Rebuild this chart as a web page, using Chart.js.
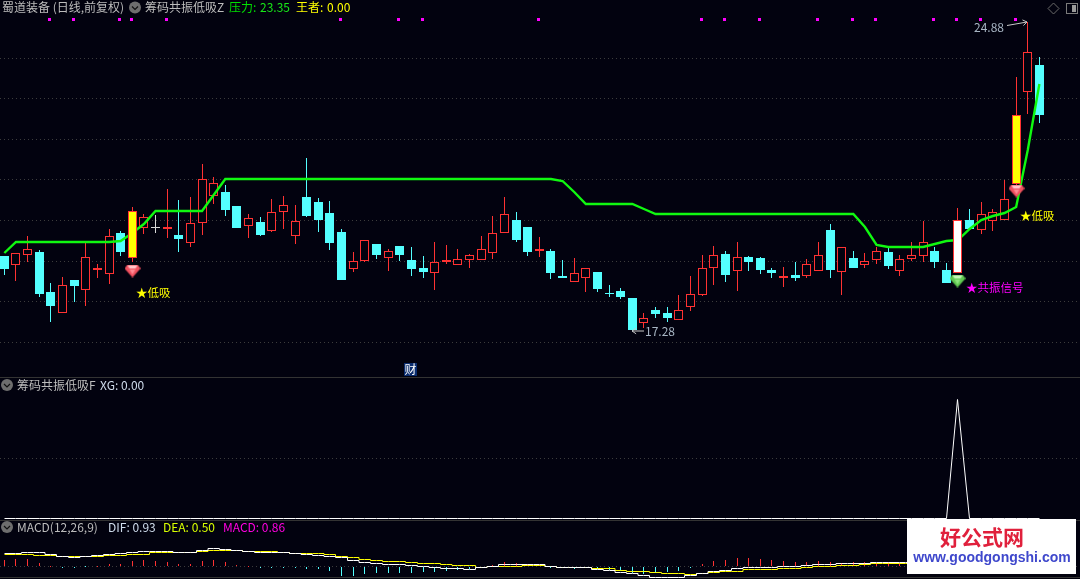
<!DOCTYPE html>
<html><head><meta charset="utf-8">
<style>html,body{margin:0;padding:0;background:#02020f;overflow:hidden}canvas{display:block}</style>
<script src="https://cdn.jsdelivr.net/npm/chart.js@4"></script></head>
<body><canvas id="c" width="1080" height="579" style="width:1080px;height:579px"></canvas>
<script>
const opens =[19.11,18.89,19.14,19.21,18.23,17.72,18.52,18.28,18.78,18.68,19.68,19.06,19.81,19.83,19.79,19.63,19.44,19.93,20.60,20.69,20.34,19.86,19.95,19.73,20.20,19.61,20.56,20.44,20.17,19.70,
18.79,19.00,19.41,19.06,19.36,19.01,18.82,18.69,18.97,18.90,19.02,19.02,19.19,19.69,20.00,19.83,19.24,19.24,18.62,18.48,18.58,18.72,18.20,18.25,18.08,17.47,17.78,17.71,17.55,17.87,
18.15,18.83,19.16,18.75,19.09,19.06,18.77,18.57,18.65,18.63,18.75,19.75,18.73,19.06,18.90,19.02,19.21,18.75,19.04,19.12,19.25,18.77,18.69,20.00,19.76,19.98,20.01,20.90,23.16,23.82];
const closes=[18.79,19.20,19.30,18.18,17.88,18.41,18.37,19.08,18.82,19.60,19.21,20.22,20.07,19.83,19.83,19.53,19.92,21.00,20.92,20.24,19.80,20.04,19.63,20.21,20.38,19.97,20.10,20.00,19.43,18.52,
19.00,19.50,19.14,19.23,19.14,18.79,18.72,18.98,19.03,19.05,19.13,19.30,19.69,20.14,19.51,19.21,19.30,18.69,18.57,18.69,18.81,18.30,18.18,18.10,17.29,17.59,17.69,17.59,17.78,18.17,
18.83,19.13,18.65,19.10,18.96,18.77,18.69,18.62,18.57,18.91,19.15,18.77,19.33,18.83,19.00,19.25,18.87,19.05,19.13,19.47,18.96,18.45,20.00,19.78,20.16,20.19,20.51,22.59,24.13,22.59];
const highs =[19.11,19.20,19.60,19.26,18.45,18.60,18.52,19.44,18.92,19.77,19.73,20.32,20.14,20.12,20.76,20.49,20.56,21.38,21.06,20.86,20.34,20.15,20.07,20.51,20.59,20.37,21.52,20.54,20.47,19.78,
19.21,19.50,19.41,19.28,19.36,19.33,19.11,19.46,19.38,19.28,19.16,19.60,20.10,20.56,20.19,19.83,19.58,19.28,19.01,19.06,18.81,18.72,18.40,18.33,18.08,17.71,17.86,17.86,18.15,18.62,
19.14,19.36,19.24,19.46,19.11,19.09,18.82,18.84,18.96,19.04,19.46,19.90,19.33,19.24,19.19,19.33,19.31,19.14,19.46,19.97,19.33,18.94,20.29,20.27,20.44,20.27,20.98,23.52,24.88,24.01];
const lows  =[18.64,18.50,18.97,18.10,17.49,17.72,17.98,17.88,18.57,18.42,19.11,18.96,19.65,19.68,19.55,19.21,19.33,19.63,20.39,20.10,19.80,19.55,19.60,19.70,19.78,19.41,20.07,19.70,19.26,18.52,
18.72,18.96,19.04,18.74,18.99,18.62,18.57,18.28,18.92,18.90,18.82,19.02,19.04,19.69,19.46,19.11,19.09,18.55,18.57,18.48,18.23,18.23,18.10,18.05,17.28,17.34,17.59,17.49,17.55,17.76,
18.13,18.40,18.47,18.25,18.74,18.67,18.57,18.35,18.50,18.57,18.75,18.57,18.15,18.82,18.82,18.92,18.79,18.62,18.99,18.96,18.82,18.45,18.69,19.78,19.65,19.73,20.00,20.75,22.62,22.40];
const pressure=[19.18,19.46,19.46,19.46,19.46,19.46,19.46,19.46,19.46,19.46,19.49,19.67,19.90,20.22,20.22,20.22,20.22,20.22,20.61,21.00,21.00,21.00,21.00,21.00,21.00,21.00,21.00,21.00,21.00,21.00,
21.00,21.00,21.00,21.00,21.00,21.00,21.00,21.00,21.00,21.00,21.00,21.00,21.00,21.00,21.00,21.00,21.00,21.00,20.97,20.68,20.40,20.40,20.40,20.40,20.40,20.28,20.15,20.15,20.15,20.15,
20.15,20.15,20.15,20.15,20.15,20.15,20.15,20.15,20.15,20.15,20.15,20.15,20.15,20.15,19.82,19.39,19.33,19.33,19.33,19.33,19.42,19.49,19.50,19.79,20.00,20.10,20.17,20.33,21.72,23.35];
const xgSignal=[0,0,0,0,0,0,0,0,0,0,0,0,0,0,0,0,0,0,0,0,0,0,0,0,0,0,0,0,0,0,
0,0,0,0,0,0,0,0,0,0,0,0,0,0,0,0,0,0,0,0,0,0,0,0,0,0,0,0,0,0,
0,0,0,0,0,0,0,0,0,0,0,0,0,0,0,0,0,0,0,0,0,0,100,0,0,0,0,0,0,0];
const dif=[.62,.65,.70,.67,.58,.50,.45,.48,.55,.57,.62,.70,.75,.75,.75,.70,.68,.78,.88,.83,.78,.72,.68,.67,.67,.62,.57,.53,.50,.42,
.28,.17,.15,.08,.08,.03,-.02,-.08,-.10,-.13,-.15,-.08,-.03,.07,.07,.07,.07,-.02,-.07,-.08,-.08,-.15,-.22,-.30,-.38,-.48,-.55,-.55,-.55,-.48,
-.38,-.27,-.22,-.13,-.05,-.05,-.05,-.02,-.02,.03,.07,.07,.12,.12,.12,.17,.17,.17,.20,.22,.23,.23,.25,.28,.32,.37,.42,.48,.58,.93];
const dea=[.58,.58,.58,.55,.52,.50,.50,.50,.50,.52,.55,.58,.60,.67,.67,.67,.68,.72,.77,.77,.77,.73,.72,.72,.68,.63,.62,.62,.58,.50,
.43,.35,.28,.25,.23,.18,.15,.12,.07,.02,.02,-.05,-.03,-.03,0,.02,.02,0,-.05,-.05,-.05,-.13,-.13,-.22,-.27,-.28,-.33,-.38,-.38,-.43,
-.38,-.33,-.28,-.25,-.18,-.18,-.18,-.13,-.13,-.08,-.03,-.03,.02,.02,.07,.12,.12,.12,.12,.13,.13,.15,.15,.17,.18,.20,.23,.27,.32,.50];
const macdHist=[.28,.32,.32,.13,0,-.07,-.05,-.03,0,.08,.07,.22,.27,.23,.18,.08,.07,.23,.27,.18,.03,0,-.12,-.12,-.08,-.10,-.17,-.17,-.25,-.50,
-.50,-.42,-.38,-.38,-.35,-.35,-.33,-.30,-.25,-.22,-.15,-.08,.03,.18,.12,.10,.02,-.07,-.10,-.15,-.12,-.18,-.22,-.27,-.38,-.42,-.38,-.32,-.27,-.12,
.08,.22,.28,.37,.37,.32,.27,.22,.17,.20,.23,.18,.15,.17,.18,.15,.17,.15,.16,.18,.20,.20,.22,.24,.28,.34,.44,.54,.70,.86];
const lowSuckBars=[11,87];
const resonanceBars=[82];
const topMarkBars=[4,6,10,11,14,29,34,36,46,60,62,65,70,73,75,80,82,84,87];
const topMarkLevel=24.94;
const redGemBars=[11,87];
const redGemLevels=[18.75,20.72];
const greenGemBars=[82];
const greenGemLevels=[18.50];
const priceGrid=[17,18,19,20,21,22,23,24];
const xgGrid=[50];
const macdGrid=[0];

const BG='#02020f',RED='#ff3232',CYAN='#54ffff',GREEN='#10f810',CJK='"Noto Sans CJK SC","Noto Sans",sans-serif';
const H=579;
function range(v0,y0,pxPerUnit){return {max:v0+y0/pxPerUnit,min:v0-(H-y0)/pxPerUnit};}
const rMain=range(17,342,40.64),rXg=range(0,517.5,1.185),rMacd=range(0,565.67,20);
const specials=[...lowSuckBars,...resonanceBars];
const all=opens.map((_,i)=>i);
const normal=all.filter(i=>!specials.includes(i));
const candleColor=i=>closes[i]>opens[i]?RED:closes[i]<opens[i]?CYAN:'#d8d8d8';
const hollow=i=>closes[i]>opens[i];
const wickData=l=>l.map(i=>({x:i,y:[lows[i],highs[i]]}));
const bodyData=l=>l.map(i=>({x:i,y:[opens[i],closes[i]]}));
const series=a=>a.map((v,i)=>({x:i,y:v}));
function gem(c1,c2,c3){
  const g=document.createElement('canvas');g.width=16;g.height=13;const x=g.getContext('2d');
  const poly=(p,f)=>{x.beginPath();p.forEach((q,k)=>k?x.lineTo(q[0],q[1]):x.moveTo(q[0],q[1]));x.closePath();x.fillStyle=f;x.fill();};
  poly([[3,0],[13,0],[16,4],[8,13],[0,4]],c1);
  poly([[3,1],[13,1],[11,4],[5,4]],c2);
  poly([[5,5],[11,5],[8,10]],c3);
  return g;
}
const redGem=gem('#f0505f','#ffc4ca','#ff8a94');
const greenGem=gem('#5fc850','#c4f5b8','#8ee57e');
const bar={type:'bar',grouped:false,borderSkipped:false,inflateAmount:0,yAxisID:'yMain'};
const datasets=[
 {...bar,label:'wick',order:20,barThickness:1,data:wickData(normal),backgroundColor:normal.map(i=>candleColor(i)),borderWidth:0},
 {...bar,label:'body',order:19,barThickness:9,data:bodyData(normal),backgroundColor:normal.map(i=>hollow(i)?BG:candleColor(i)),borderColor:normal.map(i=>hollow(i)?RED:candleColor(i)),borderWidth:normal.map(i=>hollow(i)?1:0)},
 {type:'line',label:'压力',order:10,yAxisID:'yMain',data:series(pressure),borderColor:GREEN,borderWidth:2.4,pointRadius:0,tension:0,borderJoinStyle:'miter'},
 {...bar,label:'special wick',order:9,barThickness:1,data:wickData(specials),backgroundColor:RED,borderWidth:0},
 {...bar,label:'低吸',order:8,barThickness:9,data:bodyData(lowSuckBars),backgroundColor:'#ffff00',borderColor:RED,borderWidth:1},
 {...bar,label:'共振',order:8,barThickness:9,data:bodyData(resonanceBars),backgroundColor:'#ffffff',borderColor:RED,borderWidth:1},
 {type:'scatter',label:'red gem',order:5,yAxisID:'yMain',data:redGemBars.map((x,k)=>({x,y:redGemLevels[k]})),pointStyle:redGem},
 {type:'scatter',label:'green gem',order:5,yAxisID:'yMain',data:greenGemBars.map((x,k)=>({x,y:greenGemLevels[k]})),pointStyle:greenGem},
 {type:'scatter',label:'marks',order:4,yAxisID:'yMain',data:topMarkBars.map(x=>({x,y:topMarkLevel})),pointStyle:'rect',pointRadius:2.12,pointBackgroundColor:'#ff00ff',pointBorderWidth:0,markOffset:true},
 {type:'line',label:'XG',order:4,yAxisID:'yXg',data:series(xgSignal),borderColor:'#ffffff',borderWidth:1,pointRadius:0,tension:0,snap:true},
 {...bar,label:'MACD',order:6,yAxisID:'yMacd',barThickness:1,data:series(macdHist),backgroundColor:macdHist.map(v=>v>=0?RED:CYAN),borderWidth:0},
 {type:'line',label:'DEA',order:4,yAxisID:'yMacd',data:series(dea),borderColor:'#ffff00',borderWidth:1,pointRadius:0,stepped:'middle',snap:true},
 {type:'line',label:'DIF',order:3,yAxisID:'yMacd',data:series(dif),borderColor:'#ffffff',borderWidth:1,pointRadius:0,stepped:'middle',snap:true},
];
const yAxis=(r,vals)=>({position:'left',min:r.min,max:r.max,alignToPixels:true,
  ticks:{display:false},border:{display:false,dash:[1,3]},
  grid:{color:'#3c3c3c',drawTicks:false,lineWidth:1},
  afterFit:a=>{a.width=0;},
  afterBuildTicks:a=>{a.ticks=vals.map(v=>({value:v}));}});
const snapPlugin={id:'snap',afterDatasetsUpdate(ch){
  ch.data.datasets.forEach((ds,k)=>{
    const m=ch.getDatasetMeta(k);
    m.data.forEach(el=>{
      if(ds.type==='bar'){
        el.x=Math.floor(el.x)+.5;el.y=Math.round(el.y);el.base=Math.round(el.base);
        if(el.y===el.base)el.base=el.y+1;
      }else if(ds.snap){el.x=Math.floor(el.x)+.5;el.y=Math.floor(el.y)+.5;}
      else if(ds.markOffset){el.x=Math.floor(el.x)-.5;el.y=Math.floor(el.y)+.5;}
      else if(ds.type==='scatter'){el.x=Math.floor(el.x)+.5;}
    });
  });
}};
function chevCircle(c,x,y){
  c.fillStyle='#6e6e6e';c.beginPath();c.arc(x,y,6,0,7);c.fill();
  c.strokeStyle='#111';c.lineWidth=1.2;c.beginPath();c.moveTo(x-3,y-1);c.lineTo(x,y+2);c.lineTo(x+3,y-1);c.stroke();
}
function txt(c,s,x,y,col,font){c.font=font||('12px '+CJK);c.fillStyle=col;c.textAlign='left';c.textBaseline='middle';c.fillText(s,x,y);}
function arrow(c,x1,y1,x2,y2,col){
  c.strokeStyle=col;c.lineWidth=1;c.beginPath();c.moveTo(x1,y1);c.lineTo(x2,y2);
  const a=Math.atan2(y2-y1,x2-x1);
  c.moveTo(x2-5*Math.cos(a-.6),y2-5*Math.sin(a-.6));c.lineTo(x2,y2);c.lineTo(x2-5*Math.cos(a+.6),y2-5*Math.sin(a+.6));c.stroke();
}
const decorPlugin={id:'decor',
 beforeDatasetsDraw(ch){const c=ch.ctx;c.save();c.fillStyle='#333333';
   [377,520,577].forEach(y=>c.fillRect(0,y,1080,1));c.restore();},
 afterDraw(ch){
  const c=ch.ctx,X=ch.scales.x,Y=ch.scales.yMain;c.save();
  txt(c,'蜀道装备 (日线,前复权)',2,7,'#bcbcbc');
  chevCircle(c,135,7.5);
  txt(c,'筹码共振低吸Z',145,7,'#bcbcbc');
  txt(c,'压力: ',229,7,'#00e000');txt(c,String(pressure[89]),260,7,'#18e818');
  txt(c,'王者: ',296,7,'#ffff00');txt(c,'0.00',327,7,'#ffff00');
  chevCircle(c,7,385);
  txt(c,'筹码共振低吸F',17,385,'#bcbcbc');txt(c,'XG: '+xgSignal[89].toFixed(2),100,385,'#cfdcec');
  chevCircle(c,7,527);
  txt(c,'MACD(12,26,9)',17,527,'#bcbcbc');
  txt(c,'DIF: '+dif[89].toFixed(2),108,527,'#cfdcec');
  txt(c,'DEA: '+dea[89].toFixed(2),163,527,'#d8ff00');
  txt(c,'MACD: '+macdHist[89].toFixed(2),223,527,'#ff00e0');
  const small='11.5px '+CJK;
  txt(c,'★低吸',X.getPixelForValue(11.33),Y.getPixelForValue(18.21),'#ffff00',small);
  txt(c,'★共振信号',X.getPixelForValue(82.69),Y.getPixelForValue(18.33),'#ff00ff',small);
  txt(c,'★低吸',X.getPixelForValue(87.33),Y.getPixelForValue(20.10),'#ffff00',small);
  const yLo=Y.getPixelForValue(17.28),yHi=Y.getPixelForValue(24.88);
  txt(c,'17.28',645,yLo,'#a8b6c4');arrow(c,644,yLo,632,yLo,'#c8c8c8');
  txt(c,'24.88',974,yHi+5,'#a8b6c4');arrow(c,1007,yHi+3.5,1027,yHi,'#c8c8c8');
  c.fillStyle='#0a2c6e';c.fillRect(404,363,13,13);txt(c,'财',404.5,369.5,'#ffffff');
  c.strokeStyle='#6a6a6a';c.lineWidth=1;c.beginPath();c.moveTo(1053.5,3);c.lineTo(1059,8.5);c.lineTo(1053.5,14);c.lineTo(1048,8.5);c.closePath();c.stroke();
  c.strokeStyle='#7a7a7a';c.strokeRect(1066.5,3.5,11,10);c.fillStyle='#9a9a9a';c.fillRect(1072,5,4,7);
  c.fillStyle='#ffffff';c.fillRect(907,519,169,55);
  c.textAlign='center';c.textBaseline='middle';
  c.font='bold 21px '+CJK;c.fillStyle='#e0203c';c.fillText('好公式网',982,537);
  c.font='bold 14px "Liberation Sans",sans-serif';c.fillStyle='#3f48cc';c.fillText('www.goodgongshi.com',992,558);
  c.restore();
 }};
Chart.defaults.font.family=CJK;
window.devicePixelRatio=1;
new Chart(document.getElementById('c'),{
 data:{labels:all,datasets},
 plugins:[snapPlugin,decorPlugin],
 options:{responsive:false,animation:false,devicePixelRatio:1,events:[],
  layout:{padding:0,autoPadding:false},
  plugins:{legend:{display:false},tooltip:{enabled:false}},
  elements:{point:{hitRadius:0}},
  scales:{
   x:{type:'linear',display:false,offset:false,min:-4.33/11.63,max:(1080-4.33)/11.63},
   yMain:yAxis(rMain,priceGrid),
   yXg:yAxis(rXg,xgGrid),
   yMacd:yAxis(rMacd,macdGrid)
  }}
});
</script></body></html>
